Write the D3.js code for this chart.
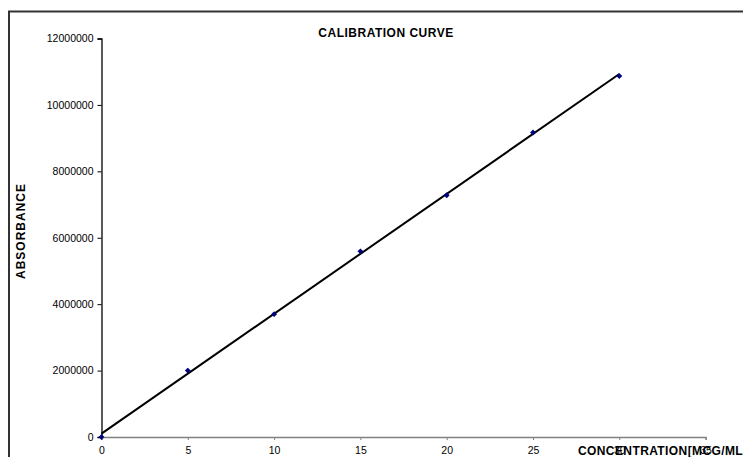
<!DOCTYPE html>
<html>
<head>
<meta charset="utf-8">
<script src="https://cdn.jsdelivr.net/npm/d3@7"></script>
<style>
  body { margin: 0; background: #fff; }
  svg { display: block; font-family: "Liberation Sans", Arial, sans-serif; }
  .tick text { font-size: 10.5px; fill: #000; }
</style>
</head>
<body>
<div id="chart"></div>
<script>
// Calibration curve data
var concentration = [0, 5, 10, 15, 20, 25, 30];
var absorbance = [0, 2000000, 3700000, 5590000, 7280000, 9170000, 10870000];
var xTicks = [0, 5, 10, 15, 20, 25, 30, 35];
var yTicks = [0, 2000000, 4000000, 6000000, 8000000, 10000000, 12000000];

var width = 743, height = 457;

var svg = d3.select("#chart")
  .append("svg")
  .attr("width", width)
  .attr("height", height);

// outer chart frame (only top & left visible in the crop)
svg.append("rect")
  .attr("x", 9)
  .attr("y", 11.5)
  .attr("width", 800)
  .attr("height", 500)
  .attr("fill", "none")
  .attr("stroke", "#333")
  .attr("stroke-width", 2);

var xScale = d3.scaleLinear().domain([0, 35]).range([101.5, 705.6]);
var yScale = d3.scaleLinear().domain([0, 12000000]).range([437, 38.5]);

// y axis
var yAxis = d3.axisLeft(yScale)
  .tickValues(yTicks)
  .tickSize(4)
  .tickPadding(4)
  .tickFormat(d3.format("d"));
var gy = svg.append("g")
  .attr("transform", `translate(${xScale(0)},0)`)
  .call(yAxis);
gy.select(".domain").attr("stroke", "#000").attr("stroke-width", 1.3);
gy.selectAll(".tick line").attr("stroke", "#000");

// x axis
var xAxis = d3.axisBottom(xScale)
  .tickValues(xTicks)
  .tickSize(3)
  .tickPadding(7)
  .tickFormat(d3.format("d"));
var gx = svg.append("g")
  .attr("transform", `translate(0,${yScale(0)})`)
  .call(xAxis);
gx.select(".domain").attr("stroke", "#808080").attr("stroke-width", 1.3);
gx.selectAll(".tick line").attr("stroke", "#808080");

// linear trendline (least squares fit of the data)
var mx = d3.mean(concentration), my = d3.mean(absorbance);
var sxy = d3.sum(concentration, (x, i) => (x - mx) * (absorbance[i] - my));
var sxx = d3.sum(concentration, x => (x - mx) * (x - mx));
var slope = sxy / sxx;
var intercept = my - slope * mx;
var xEnds = d3.extent(concentration);

svg.append("line")
  .attr("x1", xScale(xEnds[0]))
  .attr("y1", yScale(intercept + slope * xEnds[0]))
  .attr("x2", xScale(xEnds[1]))
  .attr("y2", yScale(intercept + slope * xEnds[1]))
  .attr("stroke", "#000")
  .attr("stroke-width", 2);

// diamond markers
svg.selectAll(".pt")
  .data(concentration)
  .enter()
  .append("path")
  .attr("class", "pt")
  .attr("d", d3.symbol().type(d3.symbolDiamond2).size(22))
  .attr("transform", (d, i) => `translate(${xScale(d)},${yScale(absorbance[i])})`)
  .attr("fill", "#000080");

// titles
svg.append("text")
  .attr("x", 386)
  .attr("y", 37)
  .attr("text-anchor", "middle")
  .attr("font-size", "12px")
  .attr("font-weight", "bold")
  .attr("letter-spacing", "0.5px")
  .text("CALIBRATION CURVE");

svg.append("text")
  .attr("transform", "translate(25,231)rotate(-90)")
  .attr("text-anchor", "middle")
  .attr("font-size", "12px")
  .attr("font-weight", "bold")
  .attr("letter-spacing", "1px")
  .text("ABSORBANCE");

svg.append("text")
  .attr("x", 578)
  .attr("y", 455)
  .attr("font-size", "12px")
  .attr("font-weight", "bold")
  .attr("letter-spacing", "0.4px")
  .text("CONCENTRATION[MCG/ML");
</script>
</body>
</html>
